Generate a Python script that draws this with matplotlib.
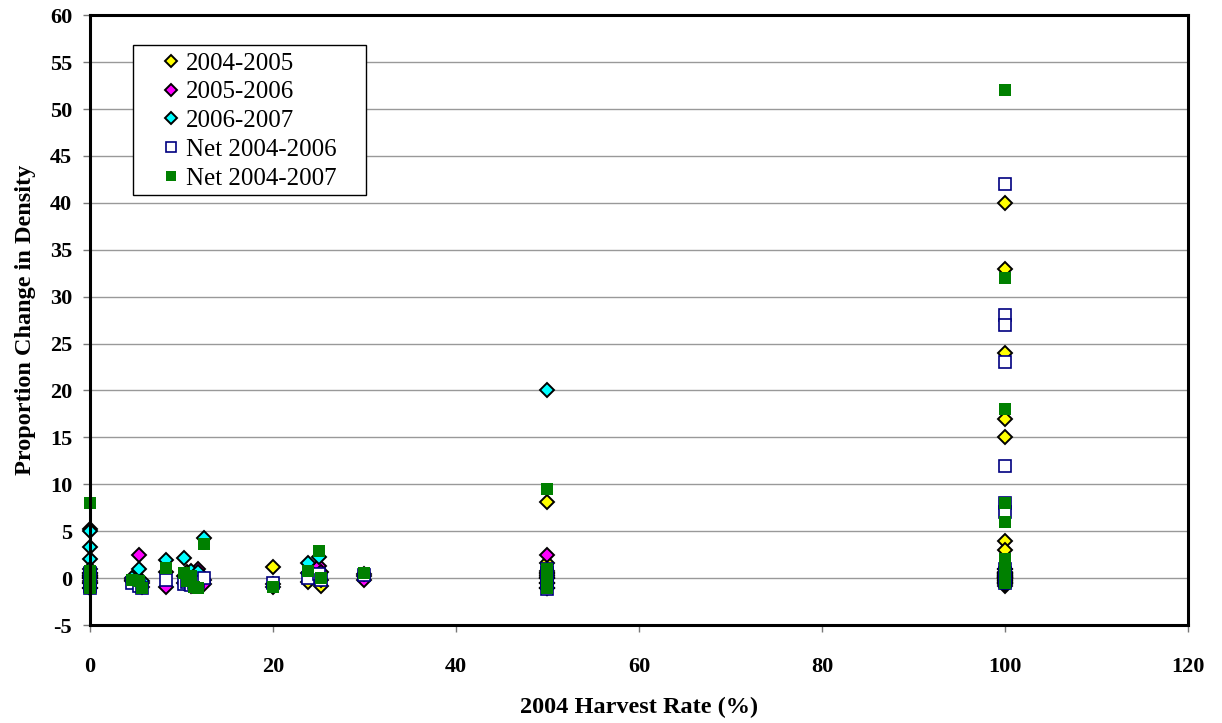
import matplotlib
matplotlib.use("Agg")
import matplotlib.pyplot as plt
from matplotlib.patches import Rectangle

# 2004 harvest rate (%) per site
harvest = [0, 0, 0, 0, 0, 0,
           4.6, 5.4, 5.7, 8.3, 10.3, 10.6, 11.0, 11.4, 11.8, 12.5,
           20, 23.8, 25, 25.2, 30,
           50, 50, 50, 50, 50, 50,
           100, 100, 100, 100, 100, 100, 100, 100, 100, 100, 100]

# proportion change in density per site
y_0405 = [5.2, 0.5, -0.3, -1.0, 0.0, 0.2,
          -0.2, -0.5, -0.9, 0.6, 0.2, 0.6, -0.5, 0.3, -0.6, -0.2,
          1.2, -0.4, -0.3, -0.8, 0.2,
          8.1, 1.6, 0.0, -0.5, 0.5, -1.0,
          40, 33, 24, 17, 15, 4, 3, 1, 0, -0.5, 0.5]
y_0506 = [0.5, -0.5, 0.0, -1.0, 0.2, 0.3,
          -0.3, 2.5, -0.5, -0.9, -0.5, 0.3, -0.8, -0.6, 1.0, -0.6,
          -0.9, 0.5, 1.3, 0.7, -0.2,
          2.5, 0.5, -0.5, 0.0, -1.0, 0.3,
          -0.8, -0.5, 0.0, 0.5, 0.2, -0.3, 0.1, -0.6, 0.3, 0.0, -0.2]
y_0607 = [5.0, 3.3, 2.0, 1.0, 0.0, -0.5,
          0.0, 1.0, -0.3, 1.9, 2.1, 0.3, 0.8, -0.2, 0.6, 4.3,
          -0.6, 1.6, 2.2, -0.2, 0.4,
          20, 0.8, 0.0, -1.0, -0.5, 0.2,
          1.0, 0.0, 0.5, -0.5, 0.3, 0.2, -0.2, 0.6, 0.1, -0.4, 0.4]
net_0406 = [0.0, -0.5, -1.0, 0.5, 0.3, -0.8,
            -0.5, -0.8, -1.0, -0.2, -0.6, -0.4, -0.7, -0.5, -0.4, 0.0,
            -0.5, 0.0, 0.4, -0.2, 0.3,
            1.0, 0.0, -0.5, -1.2, 0.5, 0.2,
            42, 28, 27, 23, 12, 8, 7, 1, 0.5, 0.0, -0.5]
net_0407 = [8.0, 0.8, 0.0, -1.0, -0.5, 0.3,
            -0.2, -0.3, -1.0, 1.1, 0.5, -0.3, 0.2, -0.9, -1.0, 3.6,
            -0.9, 0.8, 2.9, 0.0, 0.5,
            9.5, 1.0, 0.0, -1.0, -0.5, 0.4,
            52, 32, 18, 8, 6, 2, 1, 0, 0.5, -0.5, 0.3]

plt.rcParams["font.family"] = ["Liberation Serif", "DejaVu Serif"]
plt.rcParams["axes.unicode_minus"] = False

fig = plt.figure(figsize=(12.22, 7.23), dpi=100)
ax = fig.add_axes([0.0737, 0.1355, 0.8983, 0.8435])

dia = dict(marker="D", linestyle="none", markersize=7, markeredgecolor="black",
           markeredgewidth=1.4, clip_on=False)
ax.plot(harvest, y_0405, markerfacecolor="#FFFF00", label="2004-2005", **dia)
ax.plot(harvest, y_0506, markerfacecolor="#FF00FF", label="2005-2006", **dia)
ax.plot(harvest, y_0607, markerfacecolor="#00FFFF", label="2006-2007", **dia)
ax.plot(harvest, net_0406, marker="s", linestyle="none", markersize=8.5,
        markerfacecolor="white", markeredgecolor="#000080", markeredgewidth=1.2,
        label="Net 2004-2006", clip_on=False)
ax.plot(harvest, net_0407, marker="s", linestyle="none", markersize=8.5,
        markerfacecolor="#008000", markeredgecolor="#008000", markeredgewidth=0,
        label="Net 2004-2007", clip_on=False)

ax.set_xlim(0, 120)
ax.set_ylim(-5, 60)
ax.set_xticks(range(0, 121, 20))
ax.set_yticks(range(-5, 61, 5))
ax.yaxis.grid(True, color="#999999", linewidth=1)
ax.set_axisbelow(True)
for s in ax.spines.values():
    s.set_linewidth(2.2)
    s.set_color("black")
ax.tick_params(axis="both", labelsize=16, width=1, length=5, direction="out",
               color="#777777")
ax.tick_params(axis="x", pad=18)
ax.tick_params(axis="y", pad=8)
for lab in ax.get_xticklabels() + ax.get_yticklabels():
    lab.set_fontweight("bold")

ax.set_xlabel("2004 Harvest Rate (%)", fontsize=17.5, fontweight="bold", labelpad=14)
ax.set_ylabel("Proportion Change in Density", fontsize=17.5, fontweight="bold", labelpad=10)

# legend box drawn separately so the padding matches the original
ax.add_patch(Rectangle((0.0392, 0.705), 0.2122, 0.2458, transform=ax.transAxes,
                       facecolor="white", edgecolor="black", linewidth=1,
                       zorder=4, clip_on=False))
leg = ax.legend(loc="upper left", bbox_to_anchor=(0.0619, 0.9393), fontsize=18,
                frameon=False, handletextpad=0.1, borderpad=0, labelspacing=0.25,
                handlelength=1.0, markerscale=0.9, borderaxespad=0)
leg.set_zorder(5)

fig.savefig("out.png", dpi=100)
